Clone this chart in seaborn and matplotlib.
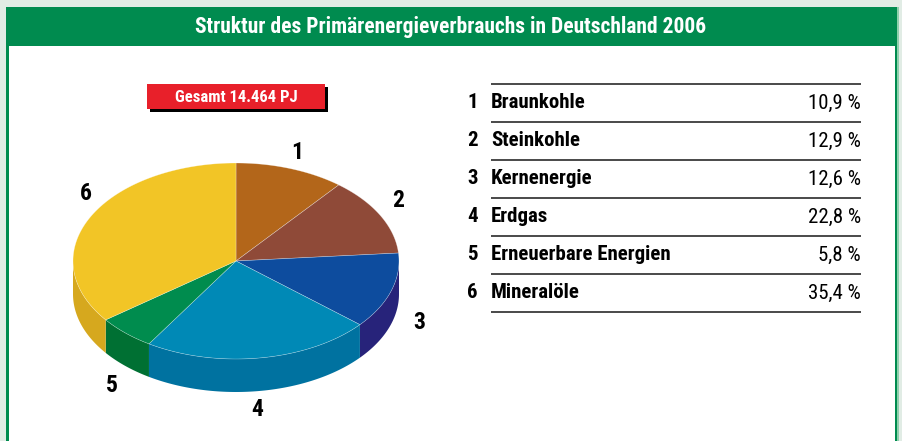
import numpy as np
import matplotlib
matplotlib.use("Agg")
import matplotlib.pyplot as plt
from matplotlib import font_manager as fm
from matplotlib.patches import Polygon, Rectangle
import seaborn as sns

# data
numbers = ["1", "2", "3", "4", "5", "6"]
sources = ["Braunkohle", "Steinkohle", "Kernenergie", "Erdgas",
           "Erneuerbare Energien", "Mineralöle"]
shares = [10.9, 12.9, 12.6, 22.8, 5.8, 35.4]
share_labels = ["10,9 %", "12,9 %", "12,6 %", "22,8 %", "5,8 %", "35,4 %"]
title = "Struktur des Primärenergieverbrauchs in Deutschland 2006"
total_label = "Gesamt 14.464 PJ"

top_colors = sns.color_palette(["#b3661a", "#8f4a38", "#0d4c9e", "#0089b6", "#008c4e", "#f2c526"])
side_colors = sns.color_palette(["#8a4d12", "#6d3729", "#27237a", "#0072a0", "#007033", "#d6a81e"])

sns.set_theme(style="white")
plt.rcParams["font.family"] = ["Roboto", "DejaVu Sans"]


def weight_num(w):
    if isinstance(w, (int, float)):
        return w
    return {"bold": 700, "semibold": 600, "demibold": 600, "heavy": 800,
            "black": 900, "extra bold": 800, "medium": 500}.get(str(w).lower(), 400)


def condensed_font(bold):
    # look for an installed condensed face, else fall back to Roboto
    prefer = ["Roboto Condensed", "Liberation Sans Narrow", "Noto Sans",
              "Open Sans", "DejaVu Sans", "Roboto"]
    best = None
    for f in fm.fontManager.ttflist:
        if "cond" not in str(f.stretch).lower() and "narrow" not in f.fname.lower() \
                and "condensed" not in f.fname.lower():
            continue
        if "italic" in f.fname.lower() or f.style != "normal":
            continue
        if "extracondensed" in f.fname.lower().replace("-", "").replace(" ", ""):
            continue
        w = weight_num(f.weight)
        want = 700 if bold else 400
        rank = prefer.index(f.name) if f.name in prefer else len(prefer)
        key = (abs(w - want), rank)
        if best is None or key < best[0]:
            best = (key, f.fname)
    if best is None:
        return fm.FontProperties(family=["Roboto", "DejaVu Sans"],
                                 weight="bold" if bold else "normal")
    return fm.FontProperties(fname=best[1])


fp_bold = condensed_font(True)
fp_reg = condensed_font(False)

GREEN = "#008b4f"
fig = plt.figure(figsize=(9.02, 4.41), dpi=100, facecolor="#e1ece5")
ax = fig.add_axes([0, 0, 1, 1])
ax.set_xlim(0, 902)
ax.set_ylim(441, 0)
ax.axis("off")

# frame + header
ax.add_patch(Rectangle((6, 7), 891, 440, facecolor="white", edgecolor="none"))
ax.add_patch(Rectangle((6, 7), 891, 39, facecolor=GREEN, edgecolor="none"))
ax.add_patch(Rectangle((6, 7), 3, 440, facecolor=GREEN, edgecolor="none"))
ax.add_patch(Rectangle((894.5, 7), 2.5, 440, facecolor=GREEN, edgecolor="none"))
ax.add_patch(Rectangle((897, 7), 2, 440, facecolor="#8fd0ac", edgecolor="none"))
ax.text(451, 27, title, color="white", fontproperties=fp_bold, fontsize=15.5,
        ha="center", va="center")

# total box
ax.add_patch(Rectangle((150, 87), 178, 25, facecolor="black", edgecolor="none"))
ax.add_patch(Rectangle((147, 84), 178, 25, facecolor="#e8202a", edgecolor="none"))
ax.text(236, 97, total_label, color="white", fontproperties=fp_bold, fontsize=12,
        ha="center", va="center")

# 3d pie
cx, cy, rx, ry, depth = 236, 261, 163, 98, 33
vals = np.array(shares)
edges = np.concatenate([[0], np.cumsum(vals) / vals.sum() * 360])


def ring(t0, t1, n=80):
    t = np.radians(np.linspace(t0, t1, n))
    return cx + rx * np.sin(t), cy - ry * np.cos(t)


# side walls (front half only)
for i in range(len(vals)):
    s0, s1 = max(edges[i], 90), min(edges[i + 1], 270)
    if s1 <= s0:
        continue
    x, y = ring(s0, s1)
    pts = np.column_stack([np.concatenate([x, x[::-1]]),
                           np.concatenate([y, y[::-1] + depth])])
    ax.add_patch(Polygon(pts, closed=True, facecolor=side_colors[i],
                         edgecolor="none"))

# top faces
for i in range(len(vals)):
    x, y = ring(edges[i], edges[i + 1])
    pts = np.column_stack([np.concatenate([[cx], x]), np.concatenate([[cy], y])])
    ax.add_patch(Polygon(pts, closed=True, facecolor=top_colors[i],
                         edgecolor=(1, 1, 1, 0.45), linewidth=0.4))

# slice numbers
nudge = [(-3, 2), (-8, -6), (0, -4), (-8, 3), (6, 8), (22, -15)]
for i in range(len(vals)):
    mid = np.radians((edges[i] + edges[i + 1]) / 2)
    lx = cx + 1.18 * rx * np.sin(mid) + nudge[i][0]
    ly = cy - 1.2 * ry * np.cos(mid) + nudge[i][1]
    if np.cos(mid) < 0:
        ly += depth * 0.9
    ax.text(lx, ly, numbers[i], fontproperties=fp_bold, fontsize=17,
            color="black", ha="center", va="center")

# table
x0, x1 = 491, 861
row_h = 38
y_top = 84
for k in range(len(sources) + 1):
    ax.plot([x0, x1], [y_top + k * row_h] * 2, color="#3a3a3a", lw=1.3,
            solid_capstyle="butt")
for k in range(len(sources)):
    yy = y_top + k * row_h + row_h / 2
    ax.text(467, yy, numbers[k], fontproperties=fp_bold, fontsize=15,
            ha="left", va="center", color="black")
    ax.text(x0, yy, sources[k], fontproperties=fp_bold, fontsize=15,
            ha="left", va="center", color="black")
    ax.text(x1, yy, share_labels[k], fontproperties=fp_reg, fontsize=15,
            ha="right", va="center", color="black")

fig.savefig("out.png", dpi=100, facecolor=fig.get_facecolor())
